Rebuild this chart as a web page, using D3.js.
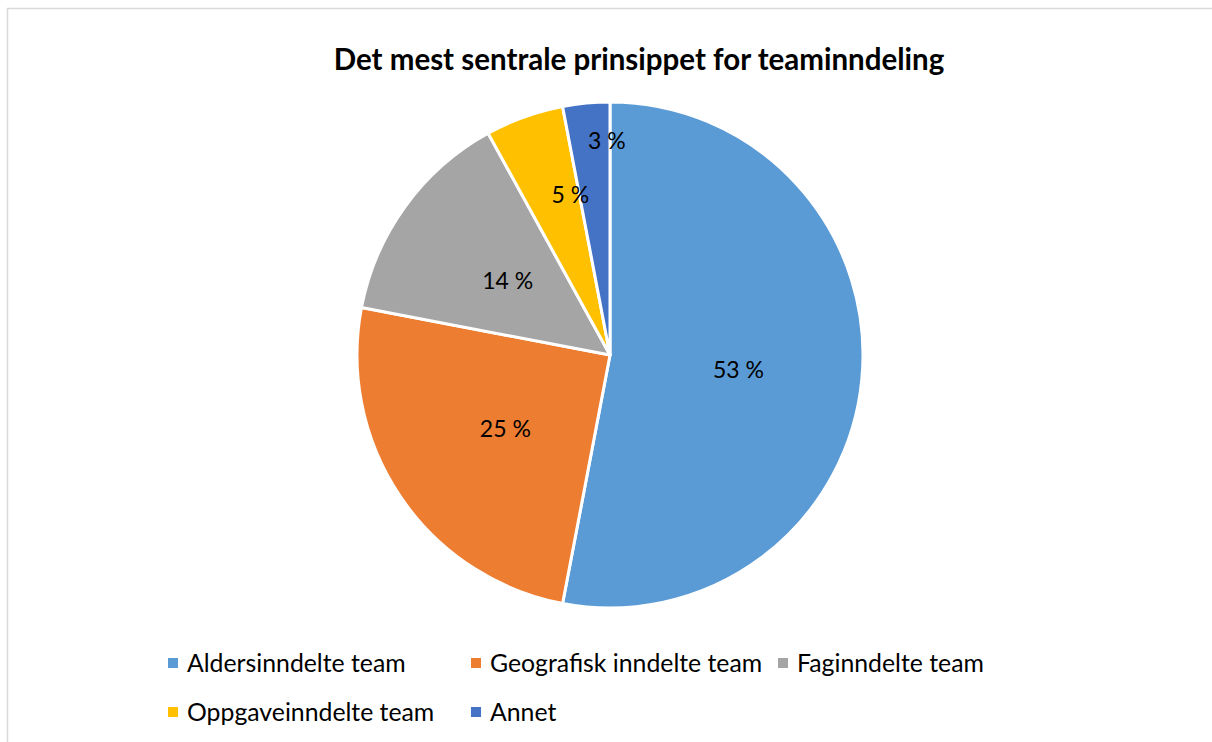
<!DOCTYPE html>
<html>
<head>
<meta charset="utf-8">
<script src="https://cdn.jsdelivr.net/npm/d3@7"></script>
<style>
  body { margin: 0; background: #fff; }
  text { font-family: Lato, "Open Sans", sans-serif; }
</style>
</head>
<body>
<svg id="chart"></svg>
<script>
const categories = ["Aldersinndelte team", "Geografisk inndelte team", "Faginndelte team", "Oppgaveinndelte team", "Annet"];
const values = [53, 25, 14, 5, 3];
const colors = ["#5b9bd5", "#ed7d31", "#a5a5a5", "#ffc000", "#4472c4"];
const title = "Det mest sentrale prinsippet for teaminndeling";

const svgWidth = 1212,
    svgHeight = 742;

// label distance from centre, as share of radius (small slices pushed out like Excel does)
const labelRatio = [0.51, 0.5, 0.5, 0.66, 0.85];
// extra pixel nudge for labels, Excel places the small ones off the mid line
const labelNudge = [[0, 3], [0, 3], [0, 0], [17, -3], [17, 0]];

const cx = 610, cy = 355, radius = 253;

const chart = d3.select("#chart")
    .attr("width", svgWidth)
    .attr("height", svgHeight);

chart.append("rect")
    .attr("x", 7.5).attr("y", 8.5)
    .attr("width", svgWidth).attr("height", svgHeight)
    .attr("fill", "#fff")
    .attr("stroke", "#d9d9d9")
    .attr("stroke-width", 1.5);

chart.append("text")
    .attr("x", 639).attr("y", 70)
    .attr("text-anchor", "middle")
    .style("font-size", "29.5px")
    .style("font-weight", "bold")
    .attr("fill", "#000")
    .text(title);

var pie = d3.pie().sort(null).value(d => d);
var arcs = pie(values);
var arc = d3.arc().innerRadius(0).outerRadius(radius);

var g = chart.append("g")
    .attr("transform", `translate(${cx},${cy})`);

g.selectAll("path")
    .data(arcs)
    .enter()
    .append("path")
    .attr("d", arc)
    .attr("fill", (d, i) => colors[i])
    .attr("stroke", "#fff")
    .attr("stroke-width", 3)
    .attr("stroke-linejoin", "round");

g.selectAll(".lbl")
    .data(arcs)
    .enter()
    .append("text")
    .attr("class", "lbl")
    .attr("transform", function(d, i) {
        var a = (d.startAngle + d.endAngle) / 2;
        var r = radius * labelRatio[i];
        var x = Math.sin(a) * r + labelNudge[i][0];
        var y = -Math.cos(a) * r + labelNudge[i][1];
        return "translate(" + x + "," + y + ")";
    })
    .attr("text-anchor", "middle")
    .attr("dy", "0.35em")
    .style("font-size", "23px")
    .attr("fill", "#000")
    .text(d => d.data + " %");

// legend
const legendPos = [[168, 663], [471, 663], [778, 663], [168, 712], [471, 712]];

var legend = chart.append("g")
    .selectAll("g")
    .data(categories)
    .enter()
    .append("g")
    .attr("transform", (d, i) => "translate(" + legendPos[i][0] + "," + legendPos[i][1] + ")");

legend.append("rect")
    .attr("x", 0).attr("y", -5)
    .attr("width", 10).attr("height", 10)
    .attr("fill", (d, i) => colors[i]);

legend.append("text")
    .attr("x", 19)
    .attr("dy", "0.35em")
    .style("font-size", "24.8px")
    .attr("fill", "#000")
    .text(d => d);
</script>
</body>
</html>
